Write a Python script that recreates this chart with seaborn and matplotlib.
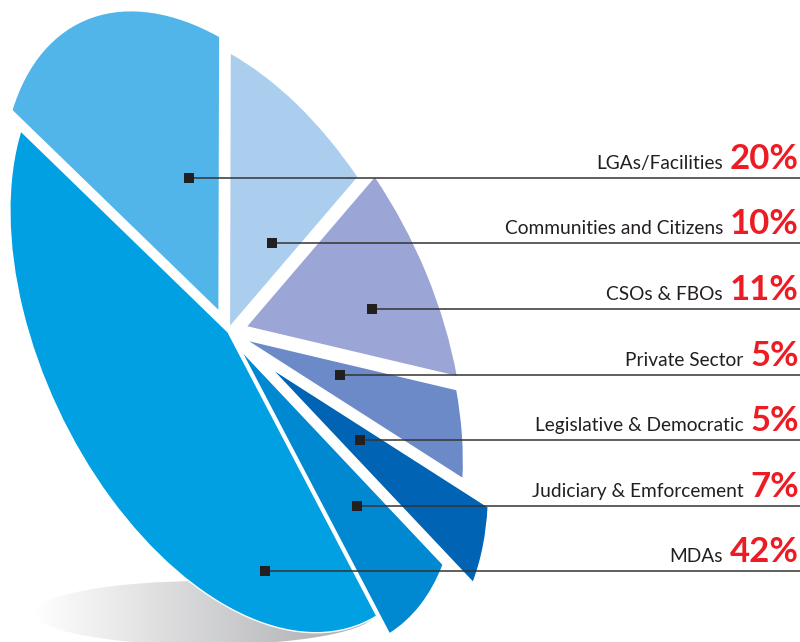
import numpy as np
import matplotlib
matplotlib.use('Agg')
import matplotlib.pyplot as plt
from matplotlib.colors import LinearSegmentedColormap
from matplotlib.patches import Ellipse
from matplotlib.transforms import Affine2D
import seaborn as sns

# pie order, counterclockwise from the start angle
slices = ['Judiciary & Emforcement', 'Legislative & Democratic', 'Private Sector',
          'CSOs & FBOs', 'Communities and Citizens', 'LGAs/Facilities', 'MDAs']
shares = [7, 5, 5, 11, 10, 20, 42]
slice_colors = ['#0088D1', '#0063B3', '#6C8AC8', '#9BA5D6', '#ABCDEE', '#52B5E9', '#00A0E3']

# legend order, top to bottom
rows = ['LGAs/Facilities', 'Communities and Citizens', 'CSOs & FBOs', 'Private Sector',
        'Legislative & Democratic', 'Judiciary & Emforcement', 'MDAs']
row_y = [178, 243, 309, 375, 440, 506, 571]
dot_x = [189, 272, 372, 340, 360, 357, 265]

explode = [0.07, 0.2, 0.08, 0.1, 0.02, 0.07, 0]

sns.set_theme(style='white')
plt.rcParams['font.family'] = ['Lato', 'DejaVu Sans']

fig = plt.figure(figsize=(8, 6.42), dpi=100)
ax = fig.add_axes([0, 0, 1, 1])

wedges, _ = ax.pie(shares, explode=explode, colors=sns.color_palette(slice_colors),
                   startangle=3.7, counterclock=True, frame=False)

# tilt the round pie into the slanted ellipse
tilt = Affine2D().scale(321, 187).rotate_deg(-64.5).scale(1, -1).translate(228, 332)
for w in wedges:
    w.set_transform(tilt + ax.transData)
    w.set_zorder(3)
    w.set_clip_on(False)

# floor shadow
shadow = Ellipse((205, 613), 340, 64, transform=ax.transData, facecolor='none', edgecolor='none')
ax.add_patch(shadow)
grey = LinearSegmentedColormap.from_list('shadow', ['#FFFFFF', '#A6A7AA'])
im = ax.imshow(np.linspace(0, 1, 256).reshape(1, -1), cmap=grey, aspect='auto',
               extent=(35, 375, 645, 581), zorder=1)
im.set_clip_path(shadow)

ax.set_aspect('auto')
ax.set_xlim(0, 800)
ax.set_ylim(642, 0)
ax.axis('off')

fig.canvas.draw()
renderer = fig.canvas.get_renderer()
inv = ax.transData.inverted()

for name, y, x in zip(rows, row_y, dot_x):
    share = shares[slices.index(name)]
    ax.plot([x, 800], [y, y], color='#333333', lw=1.1, zorder=4, solid_capstyle='butt')
    ax.scatter([x], [y], marker='s', s=50, color='#231F20', linewidths=0, zorder=5)
    pct = ax.text(799, y - 9, f'{share}%', color='#ED1C24', fontsize=25, fontweight='bold',
                  ha='right', va='baseline', zorder=6)
    left = inv.transform(pct.get_window_extent(renderer).get_points())[0, 0]
    ax.text(left - 7, y - 9, name, color='#231F20', fontsize=13.8,
            ha='right', va='baseline', zorder=6)

fig.savefig('out.png', dpi=100)
